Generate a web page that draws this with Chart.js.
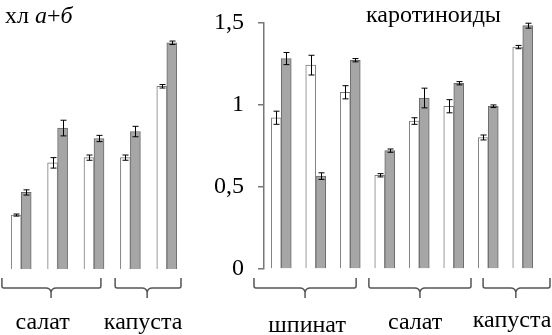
<!DOCTYPE html>
<html><head><meta charset="utf-8">
<script src="https://cdn.jsdelivr.net/npm/chart.js@4"></script>
<style>
html,body{margin:0;padding:0;background:#fff;width:552px;height:335px;overflow:hidden;}
#l{position:absolute;left:0;top:0;width:200px;height:335px;}
#r{position:absolute;left:200px;top:0;width:352px;height:335px;}
.t{position:absolute;font-family:"Liberation Serif","Times New Roman",Tinos,"DejaVu Serif",serif;font-size:24px;color:#000;white-space:nowrap;line-height:1;}
</style></head><body>
<div id="l"><canvas id="cl" width="200" height="335"></canvas></div>
<div id="r"><canvas id="cr" width="352" height="335"></canvas></div>
<div class="t" style="left:5px;top:3px;">хл <i>а</i>+<i>б</i></div>
<div class="t" style="left:366px;top:2px;">каротиноиды</div>
<script>
// ---- data ----
const leftCats = ['1','2','3','4','5'];
const leftWhite = [0.31, 0.61, 0.64, 0.64, 1.05];
const leftGrey  = [0.44, 0.81, 0.75, 0.79, 1.30];
const leftWhiteErr = [0.006, 0.03, 0.015, 0.015, 0.01];
const leftGreyErr  = [0.015, 0.045, 0.018, 0.03, 0.01];
const leftGroups = ['салат', 'капуста'];
const leftBrackets = [[-0.53, 0.82, 2.19], [2.58, 3.46, 4.39]];
const leftLabelPos = [0.59, 3.35];

const rightCats = ['1','2','3','4','5','6','7','8'];
const rightWhite = [0.92, 1.24, 1.075, 0.57, 0.90, 0.99, 0.80, 1.35];
const rightGrey  = [1.28, 0.565, 1.27, 0.72, 1.04, 1.13, 0.99, 1.48];
const rightWhiteErr = [0.04, 0.06, 0.04, 0.01, 0.02, 0.04, 0.015, 0.01];
const rightGreyErr  = [0.037, 0.02, 0.01, 0.01, 0.06, 0.01, 0.008, 0.015];
const rightGroups = ['шпинат', 'салат', 'капуста'];
const rightBrackets = [[-0.79, 0.69, 2.17], [2.54, 4.02, 5.5], [5.85, 6.8, 7.79]];
const rightLabelPos = [0.75, 3.88, 6.69];
const yTicks = [0, 0.5, 1, 1.5];

const FONT = '"Liberation Serif", "Times New Roman", Tinos, "DejaVu Serif", serif';

const errPlugin = {
  id: 'err',
  afterDatasetsDraw(chart, args, opts) {
    const ctx = chart.ctx, y = chart.scales.y;
    ctx.save();
    ctx.strokeStyle = '#000'; ctx.lineWidth = 1;
    chart.data.datasets.forEach((ds, di) => {
      const meta = chart.getDatasetMeta(di);
      ds.err.forEach((e, i) => {
        const v = ds.data[i], x = Math.round(meta.data[i].x) + 0.5;
        const y1 = y.getPixelForValue(v + e), y2 = y.getPixelForValue(v - e);
        ctx.beginPath();
        ctx.moveTo(x, y1); ctx.lineTo(x, y2);
        ctx.moveTo(x - 3, y1); ctx.lineTo(x + 3, y1);
        ctx.moveTo(x - 3, y2); ctx.lineTo(x + 3, y2);
        ctx.stroke();
      });
    });
    ctx.restore();
  }
};

const bracketPlugin = {
  id: 'brk',
  afterDraw(chart, args, opts) {
    const ctx = chart.ctx, x = chart.scales.x;
    ctx.save();
    ctx.strokeStyle = '#555'; ctx.lineWidth = 1.5;
    const yt = 278, yb = 288;
    opts.brackets.forEach(b => {
      const a = x.getPixelForValue(b[0]), d = x.getPixelForValue(b[1]), c = x.getPixelForValue(b[2]);
      ctx.beginPath();
      ctx.moveTo(a, yt); ctx.lineTo(a, yb - 2); ctx.quadraticCurveTo(a, yb, a + 2, yb);
      ctx.lineTo(d - 5, yb); ctx.quadraticCurveTo(d - 1, yb, d, yb + 4);
      ctx.quadraticCurveTo(d + 1, yb, d + 5, yb);
      ctx.lineTo(c - 2, yb); ctx.quadraticCurveTo(c, yb, c, yb - 2); ctx.lineTo(c, yt);
      ctx.moveTo(d, yb + 3); ctx.lineTo(d, yb + 10);
      ctx.stroke();
    });
    ctx.fillStyle = '#000';
    ctx.font = '24px ' + FONT;
    ctx.textAlign = 'center'; ctx.textBaseline = 'alphabetic';
    opts.labels.forEach((t, i) => {
      ctx.fillText(t, x.getPixelForValue(opts.labelPos[i]), opts.labelY[i]);
    });
    ctx.restore();
  }
};

function mkDatasets(w, g, we, ge) {
  return [
    {data: w, err: we, backgroundColor: '#ffffff', borderColor: '#7a7a7a', borderWidth: 1, barThickness: 10},
    {data: g, err: ge, backgroundColor: '#a6a6a6', borderColor: '#6a6a6a', borderWidth: 1, barThickness: 10}
  ];
}

new Chart(document.getElementById('cl'), {
  type: 'bar',
  data: {labels: leftCats, datasets: mkDatasets(leftWhite, leftGrey, leftWhiteErr, leftGreyErr)},
  options: {
    responsive: false, animation: false,
    layout: {padding: {left: 3, right: 15, top: 8, bottom: 66}},
    plugins: {legend: {display: false}, tooltip: {enabled: false},
      brk: {brackets: leftBrackets, labels: leftGroups, labelPos: leftLabelPos, labelY: [329, 329]}},
    scales: {
      x: {display: false},
      y: {display: false, min: 0, max: 1.5}
    }
  },
  plugins: [errPlugin, bracketPlugin]
});

new Chart(document.getElementById('cr'), {
  type: 'bar',
  data: {labels: rightCats, datasets: mkDatasets(rightWhite, rightGrey, rightWhiteErr, rightGreyErr)},
  options: {
    responsive: false, animation: false,
    layout: {padding: {left: 0, right: 12, top: 8, bottom: 66}},
    plugins: {legend: {display: false}, tooltip: {enabled: false},
      brk: {brackets: rightBrackets, labels: rightGroups, labelPos: rightLabelPos, labelY: [332, 329, 327]}},
    scales: {
      x: {display: false},
      y: {
        min: 0, max: 1.5,
        afterBuildTicks(s) { s.ticks = yTicks.map(v => ({value: v})); },
        afterFit(s) { s.width = 64; },
        border: {display: true, color: '#777', width: 1.5},
        grid: {drawOnChartArea: false, color: '#777', tickLength: 6, lineWidth: 1.5},
        ticks: {
          color: '#000', padding: 14,
          font: {family: FONT, size: 24, lineHeight: 0.7},
          callback: v => String(v).replace('.', ',')
        }
      }
    }
  },
  plugins: [errPlugin, bracketPlugin]
});
</script>
</body></html>
